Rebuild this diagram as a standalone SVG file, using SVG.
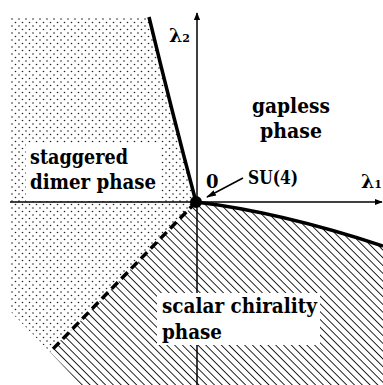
<svg xmlns="http://www.w3.org/2000/svg" width="383" height="385" viewBox="0 0 383 385">
<defs>
<pattern id="dots" patternUnits="userSpaceOnUse" width="7" height="7">
<circle cx="1.5" cy="1.5" r="0.8" fill="#222"/>
<circle cx="5" cy="5" r="0.8" fill="#222"/>
</pattern>
<pattern id="hatch" patternUnits="userSpaceOnUse" width="5.5" height="6" patternTransform="rotate(-45)">
<line x1="0" y1="0" x2="0" y2="6" stroke="#000" stroke-width="1.7"/>
</pattern>
<marker id="arr" viewBox="0 0 10 10" refX="9" refY="5" markerWidth="8" markerHeight="8" orient="auto" markerUnits="userSpaceOnUse">
<path d="M0,1 L10,5 L0,9 Z" fill="#000"/>
</marker>
<marker id="arr2" viewBox="0 0 10 10" refX="9" refY="5" markerWidth="10" markerHeight="10" orient="auto" markerUnits="userSpaceOnUse">
<path d="M0,2 L10,5 L0,8 Z" fill="#000"/>
</marker>
</defs>
<style>
.t{font-family:"DejaVu Serif","Liberation Serif",serif;font-weight:bold;fill:#000}
.big{font-size:21px}
.small{font-size:18px}
.thick{fill:none;stroke:#000;stroke-width:3.5}
.axis{fill:none;stroke:#000;stroke-width:1.5}
</style>
<rect width="383" height="385" fill="#fff"/>
<g id="staggered-dimer-region">
<path d="M11,18 L149,17 Q172,110 196,202 L50,352 L11,312 Z" fill="url(#dots)"/>
<rect x="26" y="144" width="134" height="57" fill="#fff"/>
</g>
<g id="scalar-chirality-region">
<path d="M196,202 Q280,212 383,246 L383,385 L81,385 L50,352 Z" fill="url(#hatch)"/>
</g>
<g id="connectors">
<line class="axis" x1="10" y1="202" x2="382" y2="202" marker-end="url(#arr)"/>
<line class="axis" x1="197" y1="385" x2="197" y2="13" marker-end="url(#arr)"/>
<path class="thick" d="M149,17 Q172,112 196,202"/>
<path class="thick" d="M196,202 Q280,212 383,246"/>
<line x1="196" y1="202" x2="50" y2="352" stroke="#000" stroke-width="3.5" stroke-dasharray="9 5"/>
<line x1="243" y1="178" x2="207" y2="197" stroke="#000" stroke-width="1.5" marker-end="url(#arr2)"/>
</g>
<g id="scalar-label">
<rect x="157" y="293" width="163" height="52" fill="#fff"/>
<text class="t big" x="162" y="313" textLength="155" lengthAdjust="spacingAndGlyphs">scalar chirality</text>
<text class="t big" x="162" y="339" textLength="60" lengthAdjust="spacingAndGlyphs">phase</text>
</g>
<g id="staggered-label">
<text class="t big" x="30" y="164" textLength="98" lengthAdjust="spacingAndGlyphs">staggered</text>
<text class="t big" x="30" y="189" textLength="126" lengthAdjust="spacingAndGlyphs">dimer phase</text>
</g>
<g id="gapless-label">
<text class="t big" x="252" y="113" textLength="78" lengthAdjust="spacingAndGlyphs">gapless</text>
<text class="t big" x="260" y="138" textLength="62" lengthAdjust="spacingAndGlyphs">phase</text>
</g>
<g id="origin">
<circle cx="196" cy="202" r="6" fill="#000"/>
<text class="t small" x="206" y="188">0</text>
<text class="t small" x="248" y="184" textLength="50" lengthAdjust="spacingAndGlyphs">SU(4)</text>
</g>
<g id="axis-labels">
<text class="t" x="169" y="42" font-size="19">λ<tspan font-size="11">2</tspan></text>
<text class="t" x="361" y="188" font-size="19">λ<tspan font-size="11">1</tspan></text>
</g>
</svg>
